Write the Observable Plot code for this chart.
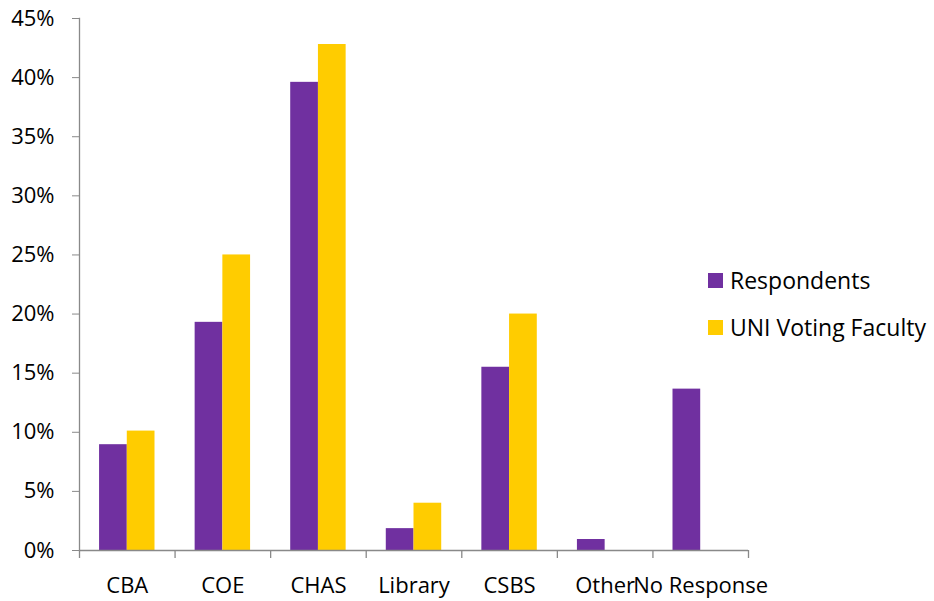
<!DOCTYPE html>
<html>
<head>
<meta charset="utf-8">
<script src="https://cdn.jsdelivr.net/npm/d3@7"></script>
<script src="https://cdn.jsdelivr.net/npm/@observablehq/plot@0.6"></script>
<style>
  html, body { margin: 0; padding: 0; background: #fff; }
  #wrap { position: relative; width: 934px; height: 601px; }
  #legend { position: absolute; left: 708px; top: 0; font-family: "Open Sans", sans-serif; font-size: 23px; color: #000; }
  .item { position: absolute; left: 0; display: flex; align-items: center; white-space: nowrap; height: 24px; line-height: 24px; }
  .sw { width: 15px; height: 15px; margin-right: 7px; flex: none; }
</style>
</head>
<body>
<div id="wrap"><div id="legend"></div></div>
<script>
const categories = ["CBA", "COE", "CHAS", "Library", "CSBS", "Other", "No Response"];
const respondents = [0.0895, 0.193, 0.396, 0.0185, 0.155, 0.0093, 0.1365];
const faculty = [0.101, 0.25, 0.428, 0.04, 0.20, null, null];
const seriesNames = ["Respondents", "UNI Voting Faculty"];
const seriesColors = ["#7030A0", "#FFCC00"];
const yTicks = [0, 0.05, 0.10, 0.15, 0.20, 0.25, 0.30, 0.35, 0.40, 0.45];

const W = 934, H = 601, ML = 79, MR = 186, MT = 18, MB = 51;
const band = (W - ML - MR) / categories.length;
const gutter = band * 0.21;
const barW = (band - 2 * gutter) / 2;

const rows = [];
categories.forEach((c, i) => {
  rows.push({category: c, series: seriesNames[0], value: respondents[i]});
  if (faculty[i] != null) rows.push({category: c, series: seriesNames[1], value: faculty[i]});
});

const axisColor = "#898989";

const chart = Plot.plot({
  width: W, height: H,
  marginLeft: ML, marginRight: MR, marginTop: MT, marginBottom: MB,
  style: {fontFamily: "'Open Sans', sans-serif", fontSize: "22px", color: "#000", background: "#fff"},
  x: {type: "band", domain: categories, paddingInner: 0, paddingOuter: 0, round: false, label: null},
  y: {domain: [0, 0.45], label: null, round: false},
  color: {domain: seriesNames, range: seriesColors},
  marks: [
    Plot.barY(rows.filter(d => d.series === seriesNames[0]), {
      x: "category", y: "value", fill: "series",
      insetLeft: gutter, insetRight: gutter + barW
    }),
    Plot.barY(rows.filter(d => d.series === seriesNames[1]), {
      x: "category", y: "value", fill: "series",
      insetLeft: gutter + barW, insetRight: gutter
    }),
    Plot.ruleY([0], {stroke: axisColor, strokeWidth: 1.3}),
    Plot.frame({anchor: "left", stroke: axisColor, strokeWidth: 1.3}),
    Plot.ruleX(categories, {x: d => d, y1: 0, y2: 0, insetBottom: -8, dx: -band / 2, stroke: axisColor, strokeWidth: 1.3}),
    Plot.ruleX(categories.slice(-1), {x: d => d, y1: 0, y2: 0, insetBottom: -8, dx: band / 2, stroke: axisColor, strokeWidth: 1.3}),
    Plot.axisY({ticks: yTicks, tickFormat: d3.format(".0%"), tickSize: 7, tickPadding: 18, stroke: axisColor, fill: "#000", label: null}),
    Plot.axisX({tickSize: 0, tickPadding: 27, fill: "#000", label: null})
  ]
});

document.getElementById("wrap").prepend(chart);

const legend = document.getElementById("legend");
const legendTops = [268, 315];
seriesNames.forEach((name, i) => {
  const item = document.createElement("div");
  item.className = "item";
  item.style.top = legendTops[i] + "px";
  const sw = document.createElement("span");
  sw.className = "sw";
  sw.style.background = seriesColors[i];
  const t = document.createElement("span");
  t.textContent = name;
  item.append(sw, t);
  legend.append(item);
});
</script>
</body>
</html>
